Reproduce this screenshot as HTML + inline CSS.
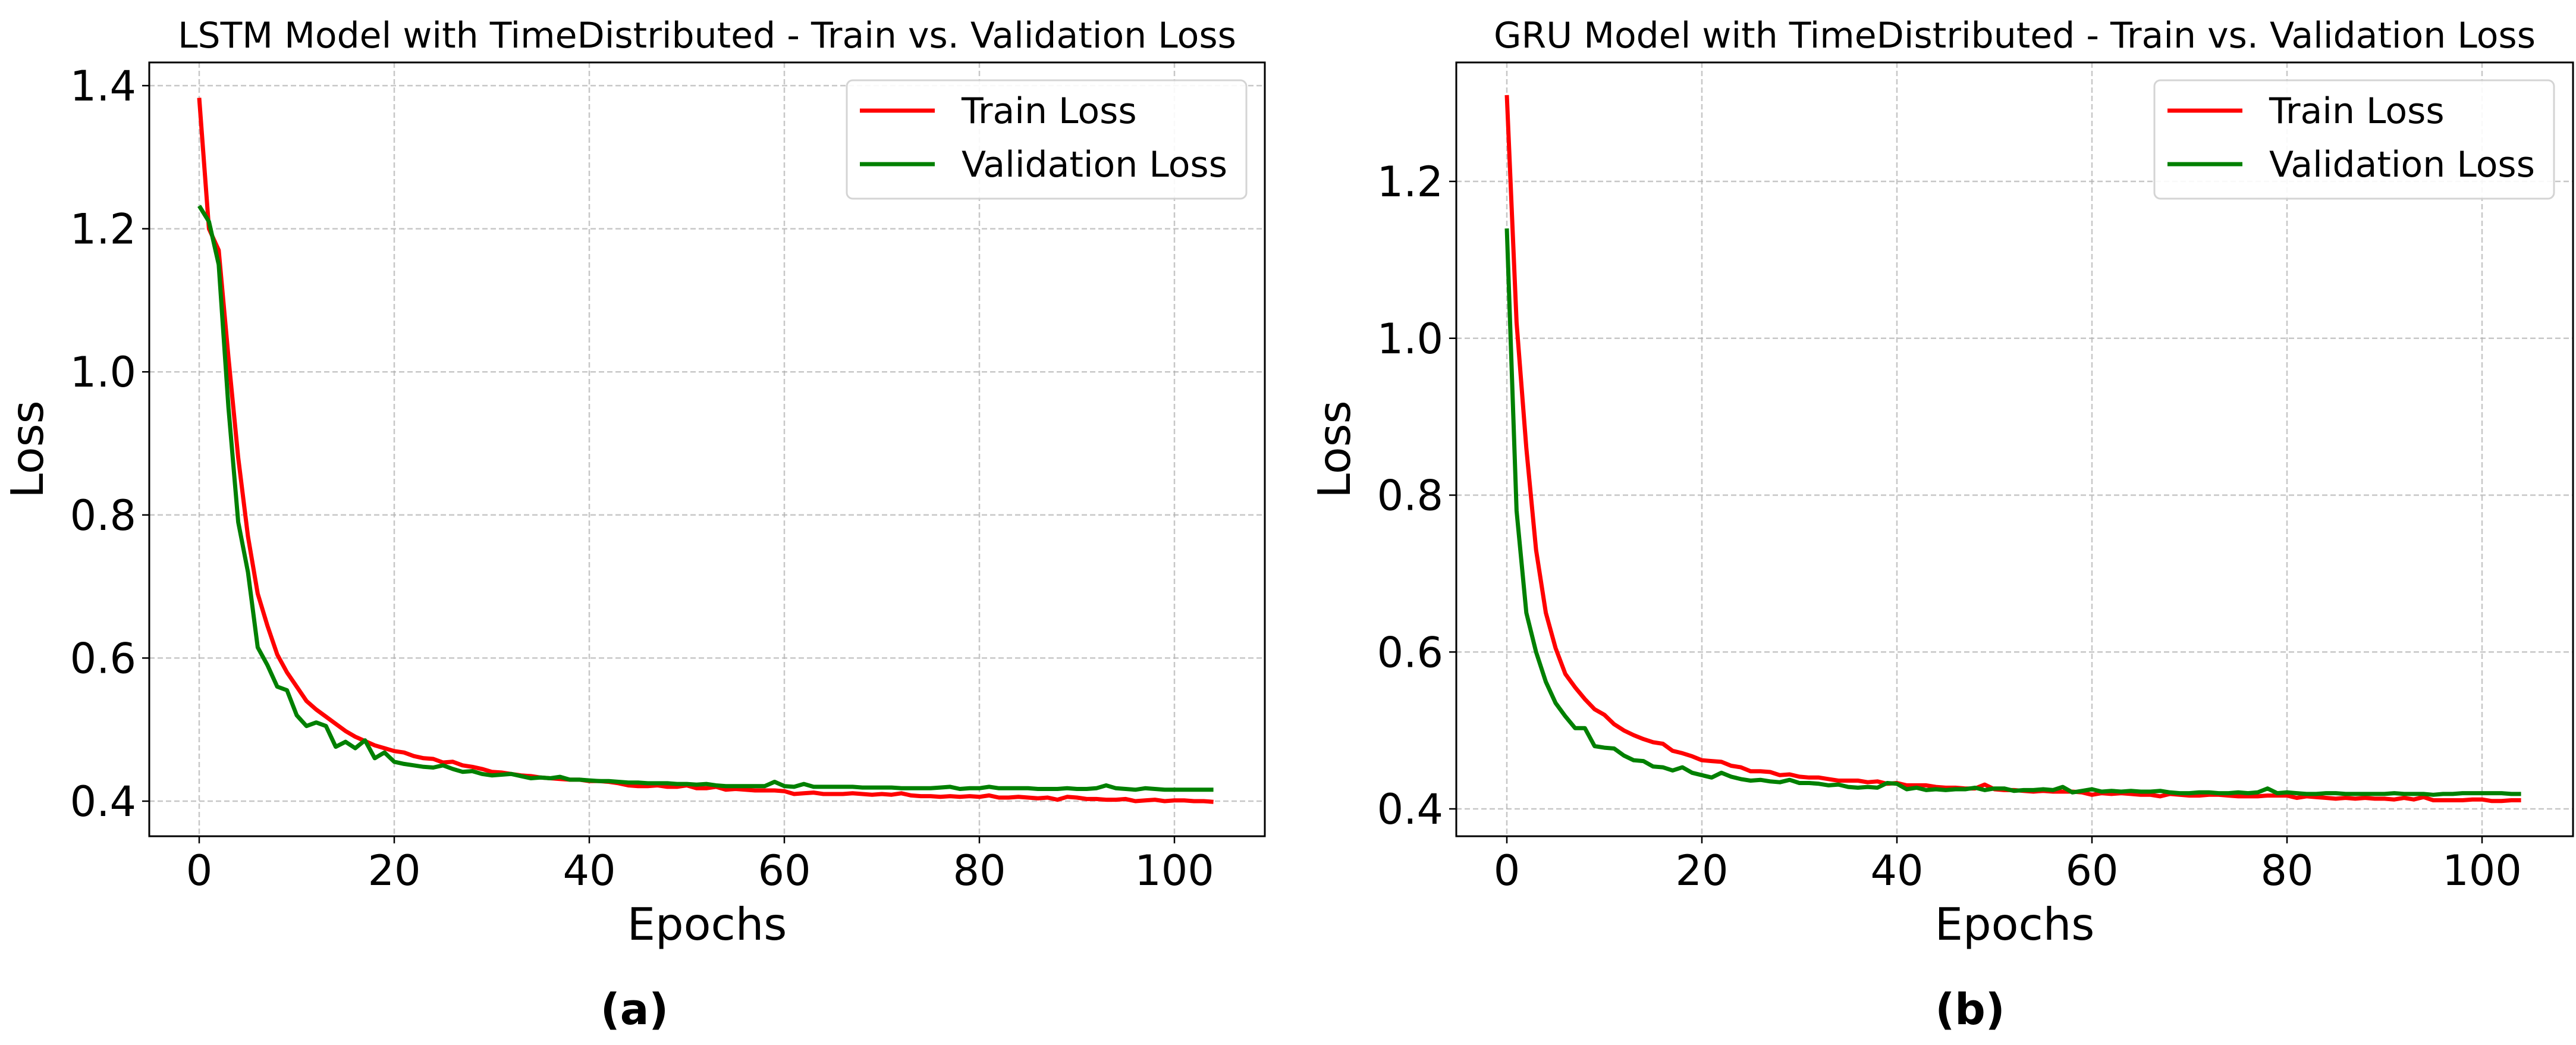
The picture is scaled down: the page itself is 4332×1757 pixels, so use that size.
<!DOCTYPE html>
<html><head><meta charset="utf-8">
<style>
html,body{margin:0;padding:0;background:#fff;}
svg{display:block;font-family:"DejaVu Sans","Liberation Sans",sans-serif;}
</style></head>
<body>
<svg id="fig" width="4332" height="1757" viewBox="0 0 4332 1757" xmlns="http://www.w3.org/2000/svg"></svg>
<script>
const epochs = Array.from({length:105},(_, i)=>i);
const xTicks = [0,20,40,60,80,100];
const lstmYTicks = [0.4,0.6,0.8,1.0,1.2,1.4];
const gruYTicks = [0.4,0.6,0.8,1.0,1.2];
const lstmTrain = [1.383,1.20,1.17,1.02,0.88,0.77,0.69,0.645,0.605,0.58,
0.56,0.54,0.528,0.518,0.508,0.498,0.49,0.484,0.478,0.474,
0.47,0.468,0.463,0.46,0.459,0.454,0.455,0.45,0.448,0.445,
0.441,0.44,0.438,0.436,0.435,0.433,0.432,0.431,0.43,0.43,
0.428,0.428,0.427,0.425,0.422,0.421,0.421,0.422,0.42,0.42,
0.422,0.418,0.418,0.42,0.416,0.417,0.416,0.415,0.415,0.415,
0.414,0.41,0.411,0.412,0.41,0.41,0.41,0.411,0.41,0.409,
0.41,0.409,0.411,0.408,0.407,0.407,0.406,0.407,0.406,0.407,
0.406,0.408,0.405,0.405,0.406,0.405,0.404,0.405,0.402,0.406,
0.405,0.403,0.403,0.402,0.402,0.403,0.4,0.401,0.402,0.4,
0.401,0.401,0.4,0.4,0.399];
const lstmVal = [1.232,1.21,1.15,0.95,0.79,0.72,0.615,0.59,0.56,0.555,
0.52,0.505,0.51,0.505,0.476,0.483,0.474,0.485,0.46,0.468,
0.455,0.452,0.45,0.448,0.447,0.45,0.445,0.441,0.442,0.438,
0.436,0.437,0.438,0.435,0.432,0.433,0.432,0.434,0.43,0.43,
0.429,0.428,0.428,0.427,0.426,0.426,0.425,0.425,0.425,0.424,
0.424,0.423,0.424,0.422,0.421,0.421,0.421,0.421,0.421,0.427,
0.421,0.42,0.424,0.42,0.42,0.42,0.42,0.42,0.419,0.419,
0.419,0.419,0.418,0.418,0.418,0.418,0.419,0.42,0.417,0.418,
0.418,0.42,0.418,0.418,0.418,0.418,0.417,0.417,0.417,0.418,
0.417,0.417,0.418,0.422,0.418,0.417,0.416,0.418,0.417,0.416,
0.416,0.416,0.416,0.416,0.416];
const gruTrain = [1.31,1.02,0.86,0.73,0.65,0.605,0.572,0.555,0.54,0.527,
0.52,0.508,0.5,0.494,0.489,0.485,0.483,0.474,0.471,0.467,
0.462,0.461,0.46,0.455,0.453,0.448,0.448,0.447,0.443,0.444,
0.441,0.44,0.44,0.438,0.436,0.436,0.436,0.434,0.435,0.432,
0.433,0.43,0.43,0.43,0.428,0.427,0.427,0.426,0.426,0.431,
0.425,0.424,0.424,0.423,0.422,0.423,0.422,0.422,0.422,0.421,
0.418,0.42,0.419,0.42,0.419,0.418,0.418,0.416,0.419,0.418,
0.417,0.417,0.418,0.418,0.417,0.416,0.416,0.416,0.417,0.417,
0.417,0.414,0.416,0.415,0.414,0.413,0.414,0.413,0.414,0.413,
0.413,0.412,0.414,0.412,0.415,0.411,0.411,0.411,0.411,0.412,
0.412,0.41,0.41,0.411,0.411];
const gruVal = [1.14,0.78,0.65,0.6,0.562,0.535,0.518,0.503,0.503,0.48,
0.478,0.477,0.468,0.462,0.461,0.454,0.453,0.449,0.453,0.446,
0.443,0.44,0.446,0.441,0.438,0.436,0.437,0.435,0.434,0.437,
0.433,0.433,0.432,0.43,0.431,0.428,0.427,0.428,0.427,0.433,
0.432,0.425,0.427,0.424,0.425,0.424,0.425,0.425,0.427,0.424,
0.426,0.426,0.423,0.424,0.424,0.425,0.424,0.428,0.421,0.423,
0.425,0.422,0.423,0.422,0.423,0.422,0.422,0.423,0.421,0.42,
0.42,0.421,0.421,0.42,0.42,0.421,0.42,0.421,0.426,0.42,
0.421,0.42,0.419,0.419,0.42,0.42,0.419,0.419,0.419,0.419,
0.419,0.42,0.419,0.419,0.419,0.418,0.419,0.419,0.42,0.42,
0.42,0.42,0.42,0.419,0.419];

const NS="http://www.w3.org/2000/svg";
const svg=document.getElementById('fig');
function mk(tag,attrs,parent){const e=document.createElementNS(NS,tag);for(const k in attrs)e.setAttribute(k,attrs[k]);(parent||svg).appendChild(e);return e;}

function panel(cfg){
  const g=mk('g',{});
  
  
  const X=v=>cfg.x0px+(v-0)*(cfg.x100px-cfg.x0px)/100;
  const Y=v=>cfg.ylo+(v-0.4)*(cfg.yhi-cfg.ylo)/(cfg.yhiV-0.4);
  const L=cfg.left,R=cfg.right,T=105,B=1406;
  // grid
  xTicks.forEach(t=>{
    const l=mk('line',{x1:X(t),x2:X(t),y1:T,y2:B,stroke:'#b0b0b0','stroke-width':2.5,'stroke-dasharray':'9,5',opacity:0.7},g);
    
    
    const tk=mk('line',{x1:X(t),x2:X(t),y1:B,y2:B+12,stroke:'#000','stroke-width':2.5},g);
    
    
    const tx=mk('text',{x:X(t),y:B+82,'font-size':70,'text-anchor':'middle',fill:'#000'},g);
    tx.textContent=t;
    
    
  });
  cfg.yTicks.forEach(t=>{
    const l=mk('line',{x1:L,x2:R,y1:Y(t),y2:Y(t),stroke:'#b0b0b0','stroke-width':2.5,'stroke-dasharray':'9,5',opacity:0.7},g);
    
    
    const tk=mk('line',{x1:L-12,x2:L,y1:Y(t),y2:Y(t),stroke:'#000','stroke-width':2.5},g);
    
    
    const tx=mk('text',{x:L-22,y:Y(t)+25,'font-size':70,'text-anchor':'end',fill:'#000'},g);
    tx.textContent=t.toFixed(1);
    
    
  });
  // series
  [[cfg.train,'#ff0000','train-loss-line'],[cfg.val,'#008000','validation-loss-line']].forEach(([arr,c,n])=>{
    const d=arr.map((v,i)=>(i?'L':'M')+X(epochs[i]).toFixed(1)+','+Y(v).toFixed(1)).join('');
    const p=mk('path',{d:d,fill:'none',stroke:c,'stroke-width':7,'stroke-linejoin':'round'},g);
    
    
  });
  const fr=mk('rect',{x:L,y:T,width:R-L,height:B-T,fill:'none',stroke:'#000','stroke-width':3},g);
  
  
  // title
  const ti=mk('text',{x:(L+R)/2,y:80,'font-size':60,'text-anchor':'middle',fill:'#000'},g);
  ti.textContent=cfg.title;
  
  
  const xl=mk('text',{x:(L+R)/2,y:1580,'font-size':75,'text-anchor':'middle',fill:'#000'},g);
  xl.textContent='Epochs';
  
  
  const yl=mk('text',{x:0,y:0,'font-size':75,'text-anchor':'middle',fill:'#000',transform:`translate(${cfg.ylabX},${(T+B)/2}) rotate(-90)`},g);
  yl.textContent='Loss';
  
  
  const sub=mk('text',{x:cfg.subX,y:1722,'font-size':72,'font-weight':'bold','text-anchor':'middle',fill:'#000'},g);
  sub.textContent=cfg.sub;
  
  
  // legend
  const lg=mk('g',{},g);
  
  
  mk('rect',{x:cfg.legX,y:135,width:672,height:199,rx:10,fill:'#fff',stroke:'#d0d0d0','stroke-width':3,opacity:0.9},lg);
  [['Train Loss','#ff0000',186],['Validation Loss','#008000',276]].forEach(([t,c,y])=>{
    const e=mk('g',{},lg);
    
    
    mk('line',{x1:cfg.legX+22,x2:cfg.legX+148,y1:y,y2:y,stroke:c,'stroke-width':7},e);
    const tx=mk('text',{x:cfg.legX+193,y:y+21,'font-size':60,fill:'#000'},e);
    tx.textContent=t;
  });
}
panel({name:'lstm-chart',left:251,right:2127,x0px:335,x100px:1975,ylo:1347,yhi:144,yhiV:1.4,yTicks:lstmYTicks,train:lstmTrain,val:lstmVal,
  title:'LSTM Model with TimeDistributed - Train vs. Validation Loss',ylabX:72,subX:1067,sub:'(a)',legX:1424});
panel({name:'gru-chart',left:2449,right:4327,x0px:2534,x100px:4174,ylo:1360,yhi:305,yhiV:1.2,yTicks:gruYTicks,train:gruTrain,val:gruVal,
  title:'GRU Model with TimeDistributed - Train vs. Validation Loss',ylabX:2270,subX:3313,sub:'(b)',legX:3623});
</script>
</body></html>
